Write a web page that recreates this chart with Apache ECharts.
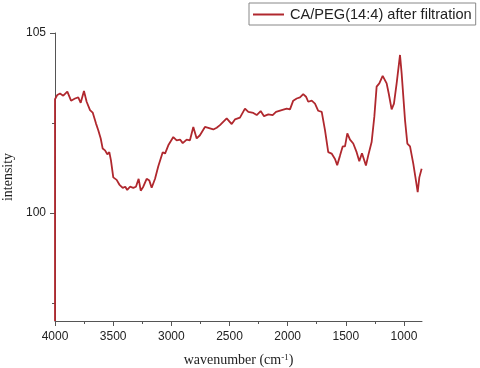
<!DOCTYPE html>
<html>
    <head>
        <meta charset="UTF-8" />
        <script src="https://cdn.jsdelivr.net/npm/echarts@6/dist/echarts.min.js"></script>
        <style>
            html, body { margin: 0; padding: 0; background: #fff; }
            #container { width: 480px; height: 368px; }
        </style>
    </head>
    <body>
        <div id="container"></div>
        <script>
            // spectrum (x: wavenumber cm-1, y: intensity)
            var wavenumbers = [4000, 4000, 3980, 3957, 3929, 3894, 3862, 3828, 3800, 3779, 3751, 3728, 3699, 3676,
                3648, 3628, 3607, 3590, 3570, 3550, 3533, 3519, 3499, 3470, 3447, 3418, 3396, 3379, 3355,
                3327, 3304, 3281, 3263, 3241, 3212, 3189, 3169, 3140, 3112, 3074, 3054, 3026, 2983, 2954,
                2925, 2902, 2868, 2840, 2811, 2782, 2754, 2711, 2668, 2639, 2610, 2582, 2524, 2481, 2453,
                2410, 2367, 2338, 2295, 2266, 2232, 2203, 2166, 2129, 2100, 2051, 2008, 1980, 1952, 1922,
                1894, 1866, 1842, 1823, 1793, 1765, 1737, 1707, 1679, 1651, 1622, 1593, 1574, 1551, 1527,
                1507, 1487, 1464, 1436, 1407, 1384, 1361, 1327, 1307, 1278, 1255, 1235, 1212, 1183, 1149,
                1131, 1106, 1086, 1063, 1034, 1020, 991, 971, 948, 920, 897, 882, 868, 848];
            var intensity = [97, 103.16, 103.28, 103.32, 103.26, 103.37, 103.12, 103.18, 103.21, 103.06, 103.39, 103.09, 102.86, 102.79,
                102.49, 102.30, 102.07, 101.79, 101.74, 101.63, 101.69, 101.46, 100.99, 100.92, 100.79, 100.70, 100.73, 100.64, 100.73,
                100.70, 100.73, 100.95, 100.62, 100.73, 100.95, 100.90, 100.70, 100.95, 101.30, 101.69, 101.65, 101.88, 102.11, 102.02,
                102.04, 101.94, 102.04, 102.02, 102.39, 102.07, 102.16, 102.39, 102.35, 102.32, 102.37, 102.44, 102.63, 102.47, 102.60,
                102.65, 102.90, 102.81, 102.78, 102.72, 102.83, 102.69, 102.74, 102.72, 102.81, 102.86, 102.90, 102.88, 103.12, 103.18,
                103.21, 103.30, 103.23, 103.09, 103.12, 103.04, 102.84, 102.81, 102.30, 101.69, 101.65, 101.50, 101.33, 101.58, 101.85,
                101.85, 102.21, 102.04, 101.93, 101.69, 101.44, 101.66, 101.32, 101.60, 101.97, 102.67, 103.51, 103.60, 103.81, 103.60,
                103.32, 102.88, 103.04, 103.60, 104.39, 103.88, 102.58, 101.93, 101.85, 101.37, 100.90, 100.58, 100.99, 101.23];

            var seriesName = 'CA/PEG(14:4) after filtration';
            var xTickLabels = [1000, 1500, 2000, 2500, 3000, 3500, 4000];
            var xMinorTicks = [1250, 1750, 2250, 2750, 3250, 3750];
            var yTickLabels = [100, 105];
            var yMinorTicks = [97.5, 102.5];

            var points = [];
            for (var i = 0; i < wavenumbers.length; i++) {
                points.push([wavenumbers[i], intensity[i]]);
            }

            var axisColor = '#555';
            var lineColor = '#b0282e';
            var plainLabel = function (v) { return String(v); };

            var chart = echarts.init(document.getElementById('container'), null, { renderer: 'canvas' });
            chart.setOption({
                animation: false,
                grid: { left: 55, right: 58, top: 33, bottom: 47, containLabel: false, outerBoundsMode: 'none' },
                legend: {
                    left: 249, top: 3,
                    padding: [4, 4, 3, 4],
                    borderColor: '#888', borderWidth: 1,
                    itemWidth: 31, itemHeight: 2, itemGap: 4,
                    icon: 'rect',
                    textStyle: { fontFamily: 'Liberation Sans, Arial', fontSize: 14.6, color: '#222', padding: [0, 0, 0, 1] },
                    data: [seriesName]
                },
                xAxis: [{
                    type: 'value', position: 'bottom', inverse: true,
                    min: 845, max: 4000,
                    name: '{a|wavenumber (cm}{b|-1}{a|)}',
                    nameLocation: 'middle', nameGap: 32,
                    nameTextStyle: {
                        rich: {
                            a: { fontFamily: 'Liberation Serif, Times New Roman', fontSize: 14, color: '#222' },
                            b: { fontFamily: 'Liberation Serif, Times New Roman', fontSize: 9, color: '#222', verticalAlign: 'top', padding: [0, 0, 6, 0] }
                        }
                    },
                    splitLine: { show: false },
                    axisLine: { lineStyle: { color: axisColor, width: 1 } },
                    axisTick: { inside: false, length: 5, lineStyle: { color: axisColor }, customValues: xTickLabels },
                    axisLabel: { customValues: xTickLabels, formatter: plainLabel, fontFamily: 'Liberation Sans, Arial', fontSize: 12, color: '#222', margin: 10 }
                }, {
                    type: 'value', position: 'bottom', inverse: true,
                    min: 845, max: 4000,
                    splitLine: { show: false },
                    axisLine: { show: false },
                    axisTick: { length: 3, lineStyle: { color: axisColor }, customValues: xMinorTicks },
                    axisLabel: { show: false }
                }],
                yAxis: [{
                    type: 'value', position: 'left',
                    min: 97, max: 105,
                    name: 'intensity',
                    nameLocation: 'middle', nameGap: 36,
                    nameTextStyle: { fontFamily: 'Liberation Serif, Times New Roman', fontSize: 14, color: '#222' },
                    splitLine: { show: false },
                    axisLine: { show: true, lineStyle: { color: axisColor, width: 1 } },
                    axisTick: { show: true, length: 5, lineStyle: { color: axisColor }, customValues: yTickLabels },
                    axisLabel: { customValues: yTickLabels, formatter: plainLabel, fontFamily: 'Liberation Sans, Arial', fontSize: 12, color: '#222', margin: 9 }
                }, {
                    type: 'value', position: 'left',
                    min: 97, max: 105,
                    splitLine: { show: false },
                    axisLine: { show: false },
                    axisTick: { show: true, length: 3, lineStyle: { color: axisColor }, customValues: yMinorTicks },
                    axisLabel: { show: false }
                }],
                series: [{
                    name: seriesName,
                    type: 'line',
                    xAxisIndex: 0, yAxisIndex: 0,
                    data: points,
                    showSymbol: false,
                    symbol: 'none',
                    lineStyle: { color: lineColor, width: 1.8 },
                    itemStyle: { color: lineColor }
                }]
            });
        </script>
    </body>
</html>
